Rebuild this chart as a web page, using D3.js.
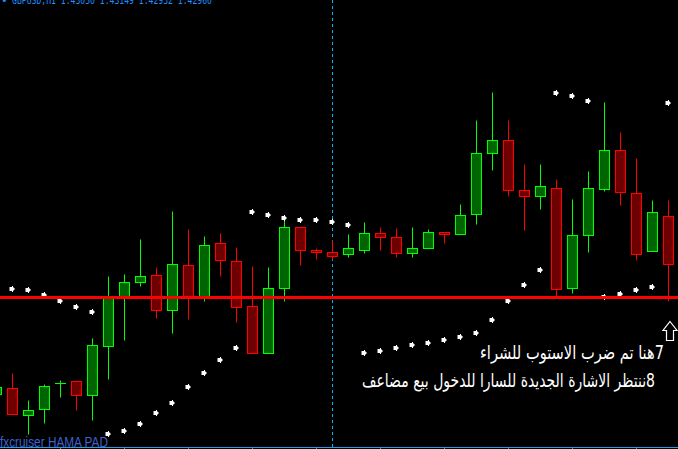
<!DOCTYPE html>
<html><head><meta charset="utf-8">
<script src="https://cdn.jsdelivr.net/npm/d3@7"></script>
<style>html,body{margin:0;padding:0;background:#000;overflow:hidden}svg{display:block}</style>
</head><body>
<script>
// ---- DATA ----
const symbolTitle = "GBPUSD,H1  1.43050 1.43149 1.42932 1.42960";
const watermark = "fxcruiser HAMA PAD";
const noteLines = ["7هنا تم ضرب الاستوب للشراء", "8ننتظر الاشارة الجديدة للسارا للدخول بيع مضاعف"];
// bar index (-1 is the partly hidden bar on the left edge)
const bars = [-1,0,1,2,3,4,5,6,7,8,9,10,11,12,13,14,15,16,17,18,19,20,21,22,23,24,25,26,27,28,29,30,31,32,33,34,35,36,37,38,39,40,41];
const open  = [1.42699,1.42712,1.42658,1.42670,1.42721,1.42726,1.42698,1.42796,1.42893,1.42924,1.42938,1.42868,1.42958,1.42894,1.43002,1.42966,1.42876,1.42782,1.42912,1.43034,1.42988,1.42984,1.42980,1.42988,1.43022,1.43014,1.42982,1.42992,1.43024,1.43020,1.43060,1.43182,1.43208,1.43108,1.43096,1.43112,1.42912,1.43016,1.43110,1.43188,1.43102,1.42986,1.43056];
const high  = [1.42717,1.42741,1.42687,1.42719,1.42727,1.42726,1.42811,1.42935,1.42939,1.43009,1.42953,1.43065,1.43029,1.43015,1.43021,1.42994,1.42955,1.42953,1.43050,1.43034,1.42992,1.43007,1.43019,1.43043,1.43033,1.43031,1.43033,1.43029,1.43024,1.43080,1.43247,1.43303,1.43247,1.43160,1.43159,1.43130,1.43089,1.43145,1.43283,1.43223,1.43171,1.43087,1.43087];
const low   = [1.42695,1.42659,1.42619,1.42642,1.42694,1.42668,1.42648,1.42728,1.42807,1.42916,1.42850,1.42822,1.42849,1.42886,1.42936,1.42844,1.42782,1.42782,1.42886,1.42958,1.42970,1.42969,1.42974,1.42982,1.42988,1.42974,1.42974,1.42992,1.43002,1.43020,1.43040,1.43148,1.43096,1.43028,1.43070,1.42894,1.42902,1.42984,1.43106,1.43078,1.42967,1.42986,1.42884];
const close = [1.42713,1.42659,1.42668,1.42716,1.42722,1.42698,1.42797,1.42891,1.42924,1.42936,1.42868,1.42960,1.42895,1.42998,1.42968,1.42874,1.42782,1.42912,1.43034,1.42988,1.42984,1.42976,1.42992,1.43022,1.43014,1.42982,1.42992,1.43024,1.43020,1.43058,1.43182,1.43206,1.43108,1.43096,1.43116,1.42910,1.43017,1.43112,1.43188,1.43104,1.42980,1.43064,1.42960];
// parabolic SAR, bars 0..41
const sarBars = [0,1,2,3,4,5,6,7,8,9,10,11,12,13,14,15,16,17,18,19,20,21,22,23,24,25,26,27,28,29,30,31,32,33,34,35,36,37,38,39,40,41];
const sar = [1.42910,1.42907,1.42897,1.42885,1.42873,1.42863,1.42619,1.42625,1.42639,1.42661,1.42681,1.42713,1.42741,1.42767,1.42791,1.43064,1.43058,1.43052,1.43048,1.43048,1.43044,1.43038,1.42782,1.42786,1.42792,1.42797,1.42802,1.42806,1.42814,1.42822,1.42848,1.42884,1.42918,1.42948,1.43302,1.43294,1.43286,1.42893,1.42900,1.42908,1.42914,1.43282];
const stopLevel = 1.42892;
const markerBar = 20;
const signalBar = 41, signalPrice = 1.42846;
const tickBars = [3,7,11,15,19,23,27,31,35,39];

// ---- CHART ----
const W = 678, H = 449;
const svg = d3.select("body").append("svg").attr("width", W).attr("height", H).style("background", "#000");
const x = d3.scaleLinear().domain([0, 41]).range([12, 668]);
const y = d3.scaleLinear().domain([1.43487, 1.42589]).range([0, 449]);
const px = v => Math.round(x(v)) + 0.5;
const py = v => Math.round(y(v)) + 0.5;

// vertical dashed marker
svg.append("line").attr("x1", px(markerBar)).attr("x2", px(markerBar)).attr("y1", 0).attr("y2", 447)
  .attr("stroke", "#00b4ff").attr("stroke-width", 1).attr("stroke-dasharray", "3,3");

// bottom axis
const ax = svg.append("g").attr("transform", "translate(0,447)")
  .call(d3.axisBottom(x).tickValues(tickBars).tickSize(3).tickFormat(""));
ax.select(".domain").remove();
ax.selectAll(".tick line").attr("stroke", "#20a0e8");
svg.append("line").attr("x1", 0).attr("x2", W).attr("y1", 447.5).attr("y2", 447.5).attr("stroke", "#20a0e8");

// candles
const data = bars.map((b, i) => ({b, o: open[i], h: high[i], l: low[i], c: close[i]}));
const cg = svg.append("g");
data.forEach(d => {
  const up = d.c >= d.o;
  const line = up ? "#00ff00" : "#ff0000";
  const fill = up ? "#006400" : "#6e0000";
  cg.append("line").attr("x1", px(d.b)).attr("x2", px(d.b)).attr("y1", py(d.h)).attr("y2", py(d.l))
    .attr("stroke", line).attr("stroke-width", 1);
  const t = py(Math.max(d.o, d.c)), bt = py(Math.min(d.o, d.c));
  cg.append("rect").attr("x", px(d.b) - 5).attr("width", 10).attr("y", t).attr("height", Math.max(bt - t, 0.01))
    .attr("fill", fill).attr("stroke", line).attr("stroke-width", 1);
});

// SAR dots
const dotPath = "M-2.5,-2H0V-3H1V-2L3,0L1,2V3H0V2H-2.5Z";
svg.append("g").selectAll("path").data(sarBars.map((b, i) => ({b, v: sar[i]}))).join("path")
  .attr("d", dotPath).attr("fill", "#fff")
  .attr("transform", d => `translate(${Math.round(x(d.b))},${Math.round(y(d.v))})`);

// stop level line
svg.append("line").attr("x1", 0).attr("x2", W).attr("y1", y(stopLevel)).attr("y2", y(stopLevel))
  .attr("stroke", "#ff0000").attr("stroke-width", 3);

// signal arrow
const ax0 = Math.round(x(signalBar)) + 2, ay0 = Math.round(y(signalPrice)) + 0.5;
svg.append("path")
  .attr("d", `M${ax0},${ay0}L${ax0+7},${ay0+9}H${ax0+3.5}V${ay0+19}H${ax0-3.5}V${ay0+9}H${ax0-7}Z`)
  .attr("fill", "#000").attr("stroke", "#fff").attr("stroke-width", 1.2);

// header (partly above the top edge, as in the terminal)
svg.append("text").attr("x", 1).attr("y", 4).attr("fill", "#1e90ff")
  .style("font-family", "'DejaVu Sans Mono', monospace").style("font-size", "11px").text("•");
svg.append("text").attr("x", 12).attr("y", 4).attr("fill", "#1e90ff")
  .attr("textLength", 200).attr("lengthAdjust", "spacingAndGlyphs")
  .style("font-family", "'DejaVu Sans Mono', monospace").style("font-size", "11px").text(symbolTitle);

// watermark
svg.append("text").attr("x", 0).attr("y", 447).attr("fill", "#3f62cc")
  .attr("textLength", 108).attr("lengthAdjust", "spacingAndGlyphs")
  .style("font-family", "'Liberation Sans', Arial, sans-serif").style("font-size", "15px").text(watermark);

// Arabic notes (RLM keeps the leading digit on the right)
const noteRight = [664, 655], noteBase = [359, 387], noteWidth = [184, 293];
noteLines.forEach((s, i) => {
  svg.append("text").attr("x", noteRight[i]).attr("y", noteBase[i])
    .attr("text-anchor", "end").attr("fill", "#fff")
    .attr("textLength", noteWidth[i]).attr("lengthAdjust", "spacingAndGlyphs")
    .style("font-family", "'DejaVu Sans', sans-serif").style("font-size", "19px").text("\u200F" + s);
});
</script>
</body></html>
